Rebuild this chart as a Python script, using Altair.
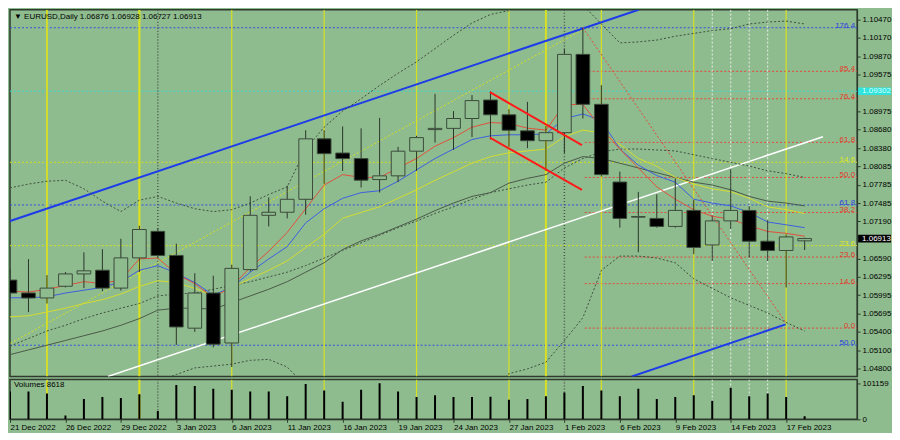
import altair as alt
import pandas as pd

BG = "#8fbc8f"
FONT = "Liberation Sans"
FRAME = "#2e3b2e"
W, H1, H2 = 850, 368, 40

# ---------------- data ----------------
date_ticks = [0, 3, 6, 9, 12, 15, 18, 21, 24, 27, 30, 33, 36, 39, 42]
date_labels = ["21 Dec 2022", "26 Dec 2022", "29 Dec 2022", "3 Jan 2023", "6 Jan 2023",
               "11 Jan 2023", "16 Jan 2023", "19 Jan 2023", "24 Jan 2023", "27 Jan 2023",
               "1 Feb 2023", "6 Feb 2023", "9 Feb 2023", "14 Feb 2023", "17 Feb 2023"]

opens = [1.0624, 1.0603, 1.0595, 1.0614, 1.0634, 1.0640, 1.0611, 1.0660, 1.0703, 1.0664,
         1.0546, 1.0603, 1.0522, 1.0641, 1.0729, 1.0734, 1.0755, 1.0853, 1.0830, 1.0821,
         1.0787, 1.0793, 1.0833, 1.0868, 1.0870, 1.0886, 1.0916, 1.0892, 1.0866, 1.0850,
         1.0863, 1.0990, 1.0909, 1.0783, 1.0726, 1.0724, 1.0711, 1.0737, 1.0681, 1.0720,
         1.0737, 1.0687, 1.0672, 1.06876]
highs = [1.0642, 1.0658, 1.0632, 1.0637, 1.0669, 1.0674, 1.0691, 1.0712, 1.0708, 1.0683,
         1.0635, 1.0631, 1.0649, 1.0760, 1.0758, 1.0777, 1.0867, 1.0867, 1.0873, 1.0870,
         1.0887, 1.0840, 1.0858, 1.0926, 1.0898, 1.0924, 1.0930, 1.0901, 1.0913, 1.0874,
         1.0999, 1.1033, 1.0940, 1.0800, 1.0767, 1.0763, 1.0789, 1.0754, 1.0729, 1.0804,
         1.0744, 1.0721, 1.0698, 1.06928]
lows = [1.0591, 1.0572, 1.0586, 1.0612, 1.0611, 1.0606, 1.0607, 1.0637, 1.0660, 1.0519,
        1.0540, 1.0515, 1.0483, 1.0638, 1.0711, 1.0724, 1.0730, 1.0780, 1.0801, 1.0774,
        1.0766, 1.0783, 1.0801, 1.0847, 1.0835, 1.0856, 1.0852, 1.0840, 1.0838, 1.0801,
        1.0830, 1.0886, 1.0792, 1.0709, 1.0669, 1.0709, 1.0709, 1.0666, 1.0655, 1.0707,
        1.0660, 1.0655, 1.0612, 1.06727]
closes = [1.0603, 1.0595, 1.0611, 1.0634, 1.0639, 1.0611, 1.0660, 1.0706, 1.0664, 1.0548,
          1.0603, 1.0520, 1.0643, 1.0729, 1.0734, 1.0755, 1.0853, 1.0829, 1.0821, 1.0786,
          1.0793, 1.0833, 1.0855, 1.0870, 1.0886, 1.0915, 1.0892, 1.0867, 1.0850, 1.0863,
          1.0990, 1.0909, 1.0795, 1.0724, 1.0727, 1.0711, 1.0737, 1.0677, 1.0720, 1.0737,
          1.0687, 1.0672, 1.0694, 1.06913]
volumes = [77800, 77800, 72600, 10400, 57100, 62300, 59700, 70000, 23300, 96000,
           93400, 85600, 83000, 77800, 77800, 64900, 98600, 80400, 49300, 83000,
           101159, 77800, 62300, 67400, 62300, 62300, 63100, 54500, 57100, 64900,
           75200, 93400, 80400, 64900, 85600, 57100, 62300, 67400, 51900, 88200,
           64900, 72600, 62300, 8618]

ma_red = [1.06060, 1.06045, 1.06091, 1.06152, 1.06214, 1.06183, 1.06245, 1.06583, 1.06598, 1.06337,
          1.06183, 1.05953, 1.06137, 1.06444, 1.06706, 1.07013, 1.07397, 1.07781, 1.07950, 1.07904,
          1.07904, 1.08058, 1.08211, 1.08411, 1.08550, 1.08719, 1.08795, 1.08780, 1.08703, 1.08672,
          1.09087, 1.09087, 1.08703, 1.08365, 1.08058, 1.07751, 1.07551, 1.07382, 1.07274, 1.07228,
          1.07121, 1.07028, 1.06998, 1.06951]
ma_blue = [1.05953, 1.05953, 1.05968, 1.06030, 1.06076, 1.06122, 1.06214, 1.06398, 1.06475, 1.06352,
           1.06199, 1.05999, 1.06122, 1.06368, 1.06583, 1.06782, 1.07167, 1.07397, 1.07566, 1.07658,
           1.07689, 1.07843, 1.08027, 1.08211, 1.08365, 1.08519, 1.08580, 1.08596, 1.08596, 1.08611,
           1.08857, 1.08934, 1.08826, 1.08365, 1.08104, 1.07935, 1.07827, 1.07551, 1.07489, 1.07443,
           1.07336, 1.07182, 1.07136, 1.07090]
ma_yellow = [1.05645, 1.05661, 1.05722, 1.05784, 1.05860, 1.05922, 1.06014, 1.06137, 1.06229, 1.06199,
             1.06106, 1.05983, 1.06122, 1.06260, 1.06398, 1.06552, 1.06767, 1.06982, 1.07243, 1.07336,
             1.07428, 1.07566, 1.07704, 1.07858, 1.07996, 1.08135, 1.08242, 1.08304, 1.08334, 1.08365,
             1.08565, 1.08672, 1.08626, 1.08442, 1.08211, 1.08088, 1.07904, 1.07797, 1.07720, 1.07674,
             1.07566, 1.07428, 1.07382, 1.07320]
ma_dark = [1.05031, 1.05108, 1.05184, 1.05261, 1.05338, 1.05415, 1.05507, 1.05615, 1.05753, 1.05784,
           1.05784, 1.05768, 1.05876, 1.05983, 1.06091, 1.06214, 1.06368, 1.06521, 1.06736, 1.06875,
           1.06982, 1.07105, 1.07228, 1.07366, 1.07489, 1.07597, 1.07658, 1.07812, 1.07889, 1.07950,
           1.08135, 1.08242, 1.08211, 1.08135, 1.08058, 1.07981, 1.07904, 1.07827, 1.07781, 1.07704,
           1.07597, 1.07520, 1.07489, 1.07443]
ma_dark_dotted = [1.05169, 1.05292, 1.05415, 1.05507, 1.05615, 1.05707, 1.05784, 1.05860, 1.05983, 1.06014,
                  1.06030, 1.06091, 1.06152, 1.06214, 1.06291, 1.06368, 1.06475, 1.06598, 1.06721, 1.06844,
                  1.06967, 1.07090, 1.07197, 1.07320, 1.07428, 1.07551, 1.07658, 1.07720, 1.07781, 1.07827,
                  1.08058, 1.08211, 1.08319, 1.08365, 1.08365, 1.08350, 1.08334, 1.08273, 1.08211, 1.08150,
                  1.08088, 1.08012, 1.07966, 1.07904]
band_upper = [1.07735, 1.07797, 1.07843, 1.07858, 1.07720, 1.07520, 1.07351, 1.07535, 1.07597, 1.07489,
              1.07397, 1.07351, 1.07382, 1.07489, 1.07628, 1.07751, 1.08365, 1.08719, 1.08980, 1.09180,
              1.09395, 1.09594, 1.09779, 1.09994, 1.10209, 1.10409, 1.10547, 1.10609, 1.10762, 1.10854,
              1.10885, 1.10701, 1.10393, 1.10086, 1.10102, 1.10132, 1.10194, 1.10240, 1.10286, 1.10317,
              1.10393, 1.10424, 1.10440, 1.10393]
band_lower = [1.0440, 1.0440, 1.0442, 1.0445, 1.0448, 1.0450, 1.0452, 1.0455, 1.0460, 1.04708,
              1.04816, 1.04846, 1.04877, 1.04939, 1.04954, 1.04831, 1.04524, 1.0430, 1.0420, 1.0415,
              1.0410, 1.0410, 1.0412, 1.0418, 1.0425, 1.0435, 1.0445, 1.04723, 1.04800, 1.04908,
              1.05261, 1.05630, 1.06398, 1.06629, 1.06629, 1.06598, 1.06521, 1.06260, 1.06106, 1.05953,
              1.05830, 1.05707, 1.05553, 1.05415]

price_ticks = [1.10470, 1.10170, 1.09870, 1.09575, 1.08975, 1.08680, 1.08380, 1.08085, 1.07785,
               1.07485, 1.07190, 1.06590, 1.06295, 1.05995, 1.05695, 1.05400, 1.05100, 1.04800]
volume_ticks = [0, 101159]

red_fib_labels = ["85.4", "76.4", "61.8", "50.0", "38.2", "23.6", "14.6", "0.0"]
red_fib_prices = [1.09625, 1.09180, 1.08473, 1.07904, 1.07336, 1.06613, 1.06183, 1.05461]
blue_fib_labels = ["176.4", "61.8", "50.0"]
blue_fib_prices = [1.10332, 1.07458, 1.05184]
yellow_fib_labels = ["14.6", "23.6"]
yellow_fib_prices = [1.08150, 1.06798]
cyan_price = 1.09302
last_price = 1.06913
title_text = "\u25bc EURUSD,Daily  1.06876 1.06928 1.06727 1.06913"
volume_text = "Volumes 8618"

yellow_vlines = [2, 7, 12, 17, 22, 27, 29, 32, 37, 42]
yellow_vline_w = [1.8, 2.2, 1.2, 1.2, 1.2, 1.2, 2.0, 1.2, 1.2, 1.2]
dark_vlines = [8, 30]
white_vlines = [38, 39, 40, 41]

# straight objects: start bar, start price, end bar, end price
blue_tr = dict(x1=[-0.16, 33.65], p1=[1.07182, 1.04677], x2=[34.02, 41.97], p2=[1.10624, 1.05522])
white_tr = dict(x1=[5.30], p1=[1.04677], x2=[43.99], p2=[1.08565])
red_ch = dict(x1=[25.97, 25.97], p1=[1.09287, 1.08549], x2=[30.95, 30.95], p2=[1.08427, 1.07704])
yellow_diag = dict(x1=[-0.16], p1=[1.05184], x2=[31.0], p2=[1.10301])
red_diag = dict(x1=[31.0], p1=[1.10332], x2=[41.97], p2=[1.05553])

X_DOMAIN = [0, 45.84]
Y_DOMAIN = [1.04677, 1.10624]
RED_FIB_START = 31.1

# ---------------- frames ----------------
n = len(opens)
df = pd.DataFrame({"i": list(range(n)), "open": opens, "high": highs, "low": lows,
                   "close": closes, "vol": volumes, "red": ma_red, "blue": ma_blue,
                   "yellow": ma_yellow, "dark": ma_dark, "darkdot": ma_dark_dotted,
                   "up": band_upper, "lo": band_lower})

xs = alt.Scale(domain=X_DOMAIN, nice=False, zero=False)
ys = alt.Scale(domain=Y_DOMAIN, nice=False, zero=False)
yaxis = alt.Axis(orient="right", values=price_ticks, format=".5f", tickSize=3,
                 labelPadding=2, title=None, domain=True, grid=False, labelFlush=False)


def X(f):
    return alt.X(f, type="quantitative", scale=xs, axis=None)


def Y(f):
    return alt.Y(f, type="quantitative", scale=ys, axis=yaxis)


def seg_layer(spec, color, width, dash=None):
    d = pd.DataFrame(spec)
    kw = dict(color=color, strokeWidth=width, clip=True)
    if dash:
        kw["strokeDash"] = dash
    return alt.Chart(d).mark_rule(**kw).encode(
        x=X("x1"), x2=alt.X2("x2"), y=Y("p1"), y2=alt.Y2("p2"))


def hlevels(prices, color):
    d = pd.DataFrame({"p": prices})
    return alt.Chart(d).mark_rule(color=color, strokeWidth=1, strokeDash=[2, 2], clip=True).encode(y=Y("p"))


def vlines(idx, color, widths, dash=None):
    d = pd.DataFrame({"i": idx, "w": widths})
    kw = dict(color=color, clip=True)
    if dash:
        kw["strokeDash"] = dash
    return alt.Chart(d).mark_rule(**kw).encode(
        x=X("i"), strokeWidth=alt.StrokeWidth("w:Q", scale=None))


def level_labels(prices, labels, color):
    d = pd.DataFrame({"p": prices, "t": labels})
    return alt.Chart(d).mark_text(align="right", baseline="alphabetic", fontSize=8,
                                  font=FONT, color=color, dy=0).encode(
        x=alt.value(W - 2), y=Y("p"), text="t:N")


def ma_line(field, color, dash=None, width=1):
    kw = dict(color=color, strokeWidth=width, clip=True)
    if dash:
        kw["strokeDash"] = dash
    return alt.Chart(df).mark_line(**kw).encode(x=X("i"), y=Y(field))


cyan = alt.Chart(pd.DataFrame({"p": [cyan_price]})).mark_rule(
    color="#38d8d0", strokeWidth=1, strokeDash=[2, 2], clip=True).encode(y=Y("p"))

redfib = alt.Chart(pd.DataFrame({"p": red_fib_prices, "x1": [RED_FIB_START] * len(red_fib_prices),
                                 "x2": [X_DOMAIN[1]] * len(red_fib_prices)})).mark_rule(
    color="#e04a3a", strokeWidth=1, strokeDash=[2, 2], clip=True).encode(
    x=X("x1"), x2=alt.X2("x2"), y=Y("p"))

wick = alt.Chart(df).mark_rule(color="#2a352a", strokeWidth=1, clip=True).encode(
    x=X("i"), y=Y("low"), y2=alt.Y2("high"))
body = alt.Chart(df).transform_calculate(
    b1="datum.i - 0.37", b2="datum.i + 0.37").mark_rect(
    stroke="#3b4a3b", strokeWidth=1, clip=True).encode(
    x=X("b1:Q"), x2=alt.X2("b2:Q"), y=Y("open"), y2=alt.Y2("close"),
    fill=alt.condition("datum.close < datum.open", alt.value("#000000"), alt.value(BG)))

title = alt.Chart(pd.DataFrame({"t": [title_text]})).mark_text(
    align="left", baseline="middle", fontSize=8, font=FONT, color="#000000").encode(
    x=alt.value(4), y=alt.value(7), text="t:N")


def axis_box(price, fill, txtcolor):
    d = pd.DataFrame({"p": [price], "t": [f"{price:.5f}"]})
    base = alt.Chart(d).transform_calculate(a="datum.p - 0.00062", b="datum.p + 0.00062")
    r = base.mark_rect(color=fill, clip=False).encode(
        x=alt.value(W + 1), x2=alt.value(W + 34), y=Y("a:Q"), y2=alt.Y2("b:Q"))
    t = base.mark_text(align="left", baseline="middle", fontSize=8, font=FONT,
                       color=txtcolor, clip=False).encode(
        x=alt.value(W + 5), y=Y("p:Q"), text="t:N")
    return [r, t]


layers = [
    cyan,
    hlevels(blue_fib_prices, "#3550e0"),
    hlevels(yellow_fib_prices, "#d6e020"),
    redfib,
    vlines(yellow_vlines, "#d8e022", yellow_vline_w),
    vlines(dark_vlines, "#4a554a", [1.5, 1.5], dash=[1, 2]),
    vlines(white_vlines, "#e8efe8", [1, 1, 1, 1], dash=[2, 2]),
    seg_layer(yellow_diag, "#d6e020", 1, dash=[2, 2]),
    seg_layer(white_tr, "#ffffff", 1.5),
    seg_layer(blue_tr, "#1e3ce8", 2),
    ma_line("up", "#3f4f3f", dash=[2, 2]),
    ma_line("lo", "#3f4f3f", dash=[2, 2]),
    ma_line("darkdot", "#3f4f3f", dash=[2, 2]),
    ma_line("dark", "#4a5a48"),
    ma_line("yellow", "#d4dc30"),
    ma_line("blue", "#3d5ee0"),
    ma_line("red", "#e0503c"),
    wick,
    body,
    seg_layer(red_ch, "#ff1a1a", 2),
    seg_layer(red_diag, "#e04a3a", 1, dash=[2, 2]),
    level_labels(red_fib_prices, red_fib_labels, "#e03a2a"),
    level_labels(blue_fib_prices, blue_fib_labels, "#2a40e0"),
    level_labels(yellow_fib_prices, yellow_fib_labels, "#e0e820"),
    title,
] + axis_box(cyan_price, "#30e4dc", "#d8fffc") + axis_box(last_price, "#000000", "#ffffff")

main = alt.layer(*layers).properties(width=W, height=H1)

# ---------------- volume panel ----------------
vs = alt.Scale(domain=[0, 111534], nice=False, zero=True)
vaxis = alt.Axis(orient="right", values=volume_ticks, format="d", tickSize=3,
                 labelPadding=2, title=None, grid=False, labelFlush=False)
label_expr = "[" + ",".join(f"'{s}'" for s in date_labels) + "][round(datum.value / 3)]"
xaxis = alt.Axis(values=date_ticks, labelExpr=label_expr, labelAlign="left", tickSize=3,
                 labelPadding=1, title=None, grid=False, labelFlush=False, labelOverlap=False,
                 labelBound=False)


def VX(f):
    return alt.X(f, type="quantitative", scale=xs, axis=xaxis)


def vvlines(idx, color, widths, dash=None):
    d = pd.DataFrame({"i": idx, "w": widths})
    kw = dict(color=color, clip=True)
    if dash:
        kw["strokeDash"] = dash
    return alt.Chart(d).mark_rule(**kw).encode(
        x=VX("i"), strokeWidth=alt.StrokeWidth("w:Q", scale=None))


vbars = alt.Chart(df).transform_calculate(z="0").mark_rule(
    color="#000000", strokeWidth=2, clip=True).encode(
    x=VX("i"), y=alt.Y("vol:Q", scale=vs, axis=vaxis), y2=alt.Y2("z:Q"))
vtitle = alt.Chart(pd.DataFrame({"t": [volume_text]})).mark_text(
    align="left", baseline="middle", fontSize=8, font=FONT, color="#000000").encode(
    x=alt.value(4), y=alt.value(6), text="t:N")

vol = alt.layer(
    vvlines(yellow_vlines, "#d8e022", yellow_vline_w),
    vvlines(dark_vlines, "#4a554a", [1.5, 1.5], dash=[1, 2]),
    vvlines(white_vlines, "#e8efe8", [1, 1, 1, 1], dash=[2, 2]),
    vbars,
    vtitle,
).properties(width=W, height=H2)

chart = alt.vconcat(main, vol, spacing=0).properties(
    background=BG, padding={"left": 0, "right": 0, "top": 0, "bottom": 0}
).configure_view(stroke=FRAME, strokeWidth=1.5, fill=BG).configure_axis(
    labelFont=FONT, labelFontSize=8, labelColor="#000000", domainColor=FRAME,
    tickColor=FRAME, grid=False)

chart.save("out.html", embed_options={"renderer": "svg", "actions": False})
